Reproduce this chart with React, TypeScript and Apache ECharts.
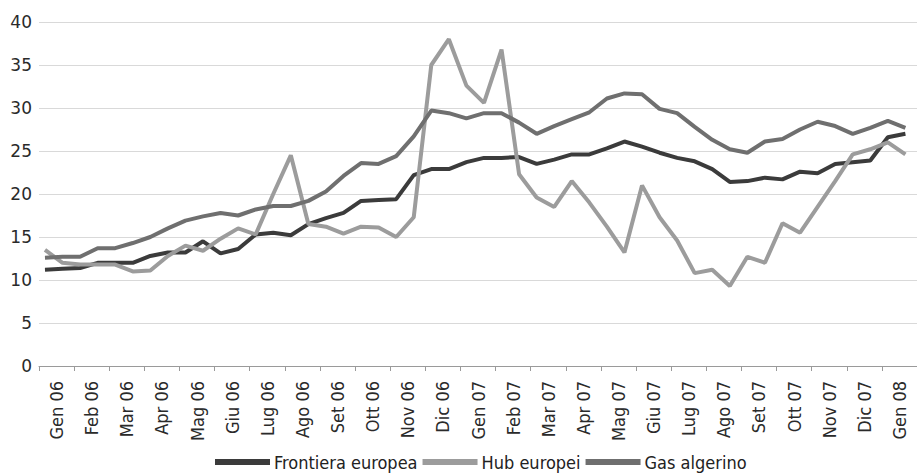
import React, { useEffect, useRef } from "react";
import * as echarts from "echarts";

const months = [
  "Gen 06", "Feb 06", "Mar 06", "Apr 06", "Mag 06", "Giu 06", "Lug 06", "Ago 06", "Set 06", "Ott 06", "Nov 06", "Dic 06",
  "Gen 07", "Feb 07", "Mar 07", "Apr 07", "Mag 07", "Giu 07", "Lug 07", "Ago 07", "Set 07", "Ott 07", "Nov 07", "Dic 07",
  "Gen 08",
];

// half-monthly observations
const frontieraEuropea = [
  11.2, 11.3, 11.4, 12.0, 12.0, 12.0, 12.8, 13.2, 13.2, 14.5,
  13.1, 13.6, 15.3, 15.5, 15.2, 16.5, 17.2, 17.8, 19.2, 19.3,
  19.4, 22.2, 22.9, 22.9, 23.7, 24.2, 24.2, 24.3, 23.5, 24.0,
  24.6, 24.6, 25.3, 26.1, 25.5, 24.8, 24.2, 23.8, 22.9, 21.4,
  21.5, 21.9, 21.7, 22.6, 22.4, 23.5, 23.7, 23.9, 26.6, 27.0,
];
const hubEuropei = [
  13.5, 12.0, 11.8, 11.8, 11.8, 11.0, 11.1, 12.8, 14.0, 13.4,
  14.8, 16.0, 15.3, 20.0, 24.5, 16.5, 16.2, 15.4, 16.2, 16.1,
  15.0, 17.3, 35.0, 38.0, 32.6, 30.6, 36.8, 22.3, 19.6, 18.5,
  21.5, 19.0, 16.2, 13.2, 21.0, 17.3, 14.6, 10.8, 11.2, 9.3,
  12.7, 12.0, 16.6, 15.5, 18.5, 21.5, 24.6, 25.2, 26.0, 24.6,
];
const gasAlgerino = [
  12.6, 12.7, 12.7, 13.7, 13.7, 14.3, 15.0, 16.0, 16.9, 17.4,
  17.8, 17.5, 18.2, 18.6, 18.6, 19.2, 20.3, 22.1, 23.6, 23.5,
  24.4, 26.7, 29.7, 29.4, 28.8, 29.4, 29.4, 28.3, 27.0, 27.9,
  28.7, 29.5, 31.1, 31.7, 31.6, 29.9, 29.4, 27.8, 26.3, 25.2,
  24.8, 26.1, 26.4, 27.5, 28.4, 27.9, 27.0, 27.7, 28.5, 27.7,
];

const seriesNames = ["Frontiera europea", "Hub europei", "Gas algerino"];
const seriesColors = ["#3b3b3b", "#9c9c9c", "#6f6f6f"];

const firstObs = 0.17; // position (in months) of the first observation
const step = 0.5; // half-month spacing

const toPairs = (arr: number[]) => arr.map((v, i) => [firstObs + step * i, v]);

const narrow = "'DejaVu Sans Condensed', 'DejaVu Sans', sans-serif";

export default function App() {
  const ref = useRef<HTMLDivElement>(null);
  useEffect(() => {
    if (!ref.current) return;
    const chart = echarts.init(ref.current, undefined, { renderer: "svg" });
    const allData = [frontieraEuropea, hubEuropei, gasAlgerino];
    chart.setOption({
      animation: false,
      backgroundColor: "#ffffff",
      grid: { left: 39, top: 22, right: -9.5, bottom: 109, containLabel: false },
      legend: {
        left: 210,
        top: 448,
        icon: "rect",
        itemWidth: 55,
        itemHeight: 6,
        itemGap: 5,
        textStyle: {
          fontFamily: narrow,
          fontSize: 18,
          color: "#222",
          padding: [0, 0, 0, -1],
        },
        data: seriesNames,
      },
      xAxis: [
        {
          type: "category",
          data: months,
          boundaryGap: true,
          axisLine: { lineStyle: { color: "#9a9a9a", width: 1 } },
          axisTick: { show: true, length: 5, lineStyle: { color: "#9a9a9a" } },
          axisLabel: {
            rotate: 90,
            interval: 0,
            margin: 15,
            fontFamily: narrow,
            fontSize: 18,
            color: "#2a2a2a",
          },
          splitLine: { show: false },
        },
        { type: "value", min: 0, max: 25, show: false },
      ],
      yAxis: {
        type: "value",
        min: 0,
        max: 40,
        interval: 5,
        axisLine: { show: false },
        axisTick: { show: false },
        axisLabel: {
          margin: 7,
          fontFamily: "'DejaVu Sans', sans-serif",
          fontSize: 17,
          color: "#2a2a2a",
        },
        splitLine: { lineStyle: { color: "#d9d9d9", width: 1 } },
      },
      series: seriesNames.map((name, k) => ({
        name,
        type: "line",
        xAxisIndex: 1,
        data: toPairs(allData[k]),
        showSymbol: false,
        symbol: "none",
        lineStyle: { color: seriesColors[k], width: 4 },
        itemStyle: { color: seriesColors[k] },
      })),
    });
    return () => chart.dispose();
  }, []);
  return (
    <div
      ref={ref}
      style={{ position: "fixed", left: 0, top: 0, width: 917, height: 475, background: "#fff" }}
    />
  );
}
